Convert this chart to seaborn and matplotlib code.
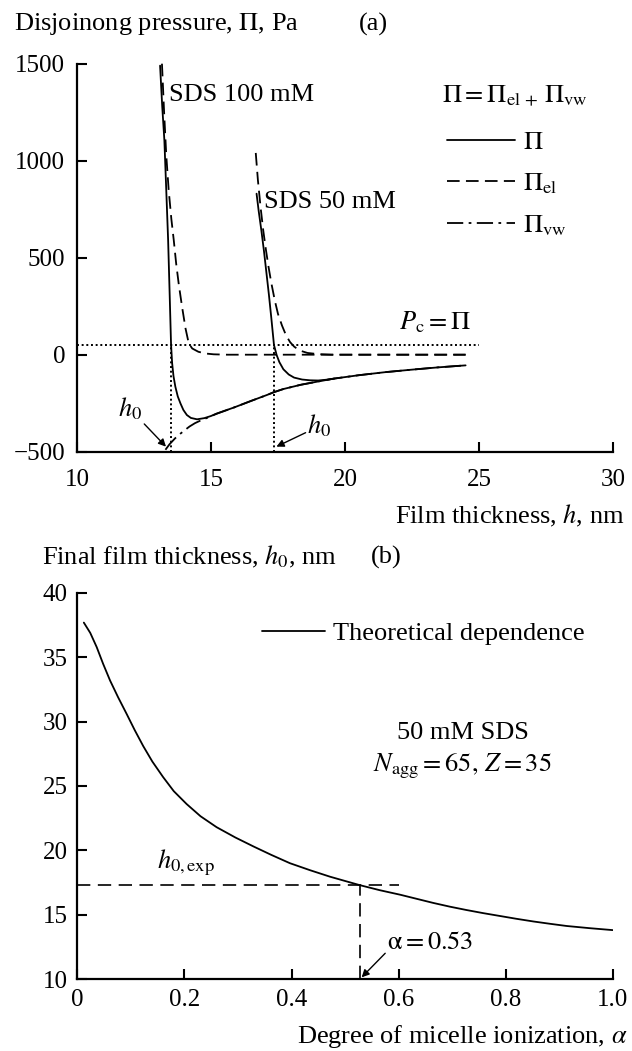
import matplotlib
matplotlib.use("Agg")
import matplotlib.pyplot as plt
import seaborn as sns

# ---- panel (a): disjoining pressure isotherms (h in nm, pressure in Pa)
h_tot100 = [13.10, 13.18, 13.26, 13.33, 13.40, 13.46, 13.51, 13.55, 13.60, 13.67, 13.76, 13.86,
            13.97, 14.10, 14.25, 14.48, 14.75, 15.00, 15.20, 15.86, 16.50, 17.10, 17.35, 17.70,
            18.35, 19.00, 19.60, 20.50, 21.50, 22.50, 23.50, 24.50]
p_tot100 = [1490, 1280, 1106, 850, 591, 300, 50, -44, -110, -165, -215, -251,
            -285, -311, -326, -333, -327, -316, -304, -272, -238, -207, -193, -177,
            -155, -138, -123, -106, -90, -77, -65, -55]

h_el100 = [13.17, 13.25, 13.33, 13.42, 13.52, 13.61, 13.70, 13.80, 13.92, 14.05, 14.17, 14.30,
           14.53, 14.80, 15.10, 15.60, 16.50, 24.50]
p_el100 = [1500, 1250, 1030, 850, 700, 591, 470, 360, 247, 135, 58, 32,
           15, 6, 2, 0, 0, 0]

h_tot50 = [16.70, 16.78, 16.88, 16.98, 17.07, 17.16, 17.25, 17.35, 17.45, 17.55, 17.70, 17.90,
           18.10, 18.40, 18.70, 19.00, 19.30, 19.60]
p_tot50 = [830, 740, 640, 530, 420, 310, 190, 50, -2, -38, -75, -102,
           -118, -128, -132, -133, -129, -123]

h_el50 = [16.67, 16.75, 16.85, 16.95, 17.05, 17.15, 17.25, 17.38, 17.50, 17.65, 17.80, 17.95,
          18.10, 18.30, 18.60, 19.00, 19.50, 24.50]
p_el50 = [1040, 900, 760, 640, 540, 450, 370, 280, 210, 150, 100, 65,
          42, 22, 9, 3, 0, 0]

h_vw = [13.30, 13.45, 13.66, 13.85, 14.03, 14.20, 14.40, 14.60, 14.78, 15.00, 15.20, 15.86,
        16.50, 17.10, 17.35, 17.70, 18.35, 19.00, 19.60, 20.50, 21.50, 22.50, 23.50, 24.50]
p_vw = [-490, -462, -431, -408, -388, -370, -353, -340, -330, -317, -305, -272,
        -238, -207, -193, -177, -155, -138, -123, -106, -90, -77, -65, -55]

p_c = 50
pc_span = (10, 25)
h0_values = [13.5, 17.35]

# ---- panel (b): final film thickness vs degree of micelle ionization
alpha = [0.012, 0.024, 0.036, 0.048, 0.061, 0.076, 0.092, 0.107, 0.123, 0.140, 0.160, 0.180,
         0.204, 0.230, 0.260, 0.295, 0.329, 0.362, 0.397, 0.435, 0.472, 0.527, 0.565, 0.603,
         0.634, 0.665, 0.696, 0.727, 0.758, 0.789, 0.820, 0.852, 0.883, 0.914, 0.957, 1.000]
h0_theory = [37.7, 36.9, 35.8, 34.5, 33.2, 31.9, 30.6, 29.35, 28.1, 26.9, 25.7, 24.6,
             23.6, 22.65, 21.8, 21.0, 20.3, 19.65, 19.0, 18.45, 17.95, 17.3, 16.9, 16.55,
             16.23, 15.91, 15.62, 15.36, 15.12, 14.9, 14.68, 14.47, 14.29, 14.12, 13.95, 13.8]
alpha_exp = 0.527
h0_exp = 17.3
h0_exp_span = (0, 0.6)

sns.set_style("ticks")
plt.rcParams["font.family"] = ["Liberation Serif", "DejaVu Serif"]
plt.rcParams["mathtext.fontset"] = "stix"
plt.rcParams["text.color"] = "black"
plt.rcParams["axes.edgecolor"] = "black"
plt.rcParams["xtick.color"] = "black"
plt.rcParams["ytick.color"] = "black"

W, H = 632, 1051
fig = plt.figure(figsize=(W / 100, H / 100), dpi=100)
ax1 = fig.add_axes([77 / W, 1 - 451.7 / H, 536 / W, 388 / H])
ax2 = fig.add_axes([77.4 / W, 1 - 979 / H, 535.3 / W, 386 / H])

FS = 19
lw = 1.3
dash = (0, (7, 3.5))
dashdot = (0, (9, 3, 1.5, 3))
dot = (0, (1, 1.4))

# panel (a)
sns.lineplot(x=h_vw, y=p_vw, ax=ax1, color="black", lw=lw, linestyle=dashdot,
             sort=False, estimator=None, clip_on=False)
line_vw = ax1.lines[-1]
sns.lineplot(x=h_el100, y=p_el100, ax=ax1, color="black", lw=lw, linestyle=dash,
             sort=False, estimator=None, clip_on=False)
line_el = ax1.lines[-1]
sns.lineplot(x=h_el50, y=p_el50, ax=ax1, color="black", lw=lw, linestyle=dash,
             sort=False, estimator=None, clip_on=False)
sns.lineplot(x=h_tot100, y=p_tot100, ax=ax1, color="black", lw=lw,
             sort=False, estimator=None, clip_on=False)
line_tot = ax1.lines[-1]
sns.lineplot(x=h_tot50, y=p_tot50, ax=ax1, color="black", lw=lw,
             sort=False, estimator=None, clip_on=False)

ax1.hlines(p_c, *pc_span, colors="black", lw=1.4, linestyles=[dot])
ax1.vlines(h0_values, -500, p_c, colors="black", lw=1.4, linestyles=[dot])

ax1.set_xlim(10, 30)
ax1.set_ylim(-500, 1500)
ax1.set_xticks([10, 15, 20, 25, 30])
ax1.set_yticks([-500, 0, 500, 1000, 1500])
ax1.set_xlabel("")
ax1.set_ylabel("")

ax1.text(13.42, 1338, "SDS 100 mM", fontsize=FS, ha="left", va="center")
ax1.text(16.97, 789, "SDS 50 mM", fontsize=FS, ha="left", va="center")
ax1.text(23.63, 1330, r"$\Pi = \Pi_{\rm el\,+}\,\Pi_{\rm vw}$", fontsize=FS, ha="left", va="center")
ax1.text(22.0, 165, r"$P_{\rm c} = \Pi$", fontsize=FS, ha="left", va="center")
ax1.text(11.53, -280, r"$h_0$", fontsize=FS, ha="left", va="center")
ax1.text(18.59, -366, r"$h_0$", fontsize=FS, ha="left", va="center")
arrow = dict(arrowstyle="-|>", color="black", lw=1.0, mutation_scale=11, shrinkA=0, shrinkB=0)
ax1.annotate("", xy=(13.32, -474), xytext=(12.51, -357), arrowprops=arrow)
ax1.annotate("", xy=(17.44, -474), xytext=(18.53, -402), arrowprops=arrow)

ax1.legend([line_tot, line_el, line_vw], [r"$\Pi$", r"$\Pi_{\rm el}$", r"$\Pi_{\rm vw}$"],
           loc="upper left", bbox_to_anchor=(0.69, 0.827), frameon=False, fontsize=FS,
           handlelength=2.6, handletextpad=0.3, labelspacing=0.65, borderpad=0, borderaxespad=0)

# panel (b)
sns.lineplot(x=alpha, y=h0_theory, ax=ax2, color="black", lw=lw,
             sort=False, estimator=None, legend=False)
line_th = ax2.lines[-1]
ax2.hlines(h0_exp, *h0_exp_span, colors="black", lw=1.2, linestyles=[(0, (8, 4.5))])
ax2.vlines(alpha_exp, 10, h0_exp, colors="black", lw=1.2, linestyles=[(0, (8, 4.5))])

ax2.set_xlim(0, 1)
ax2.set_ylim(10, 40)
ax2.set_xticks([0, 0.2, 0.4, 0.6, 0.8, 1.0])
ax2.set_xticklabels(["0", "0.2", "0.4", "0.6", "0.8", "1.0"])
ax2.set_yticks([10, 15, 20, 25, 30, 35, 40])
ax2.set_xlabel("")
ax2.set_ylabel("")

ax2.text(0.149, 19.0, r"$h_{0,\rm exp}$", fontsize=FS, ha="left", va="center")
ax2.text(0.72, 29.1, "50 mM SDS", fontsize=FS, ha="center", va="center")
ax2.text(0.72, 26.5, r"$N_{\rm agg} = 65,\, Z = 35$", fontsize=FS, ha="center", va="center")
ax2.text(0.579, 12.8, r"$\mathrm{\alpha} = 0.53$", fontsize=FS, ha="left", va="center")
ax2.annotate("", xy=(0.531, 10.13), xytext=(0.575, 12.0), arrowprops=arrow)

ax2.legend([line_th], ["Theoretical dependence"], loc="upper left", bbox_to_anchor=(0.345, 0.925),
           frameon=False, fontsize=FS, handlelength=2.4, handletextpad=0.3,
           borderpad=0, borderaxespad=0)

for ax in (ax1, ax2):
    sns.despine(ax=ax)
    ax.spines["left"].set_linewidth(1.6)
    ax.spines["bottom"].set_linewidth(1.6)
    ax.tick_params(direction="in", length=7, width=1.5, labelsize=18)
ax1.tick_params(axis="x", pad=12.5)
ax1.tick_params(axis="y", pad=8.5)
ax2.tick_params(axis="x", pad=7)
ax2.tick_params(axis="y", pad=7)

def ftext(x, y, s, **kw):
    fig.text(x / W, 1 - y / H, s, fontsize=FS, va="center", **kw)

ftext(14, 24, r"Disjoinong pressure, $\Pi$, Pa")
ftext(359, 24, "(a)")
ftext(625, 516, r"Film thickness, $h$, nm", ha="right")
ftext(42, 557, r"Final film thickness, $h_0$, nm")
ftext(371, 557, "(b)")
ftext(628, 1037, r"Degree of micelle ionization, $\alpha$", ha="right")

fig.savefig("out.png", dpi=100)
